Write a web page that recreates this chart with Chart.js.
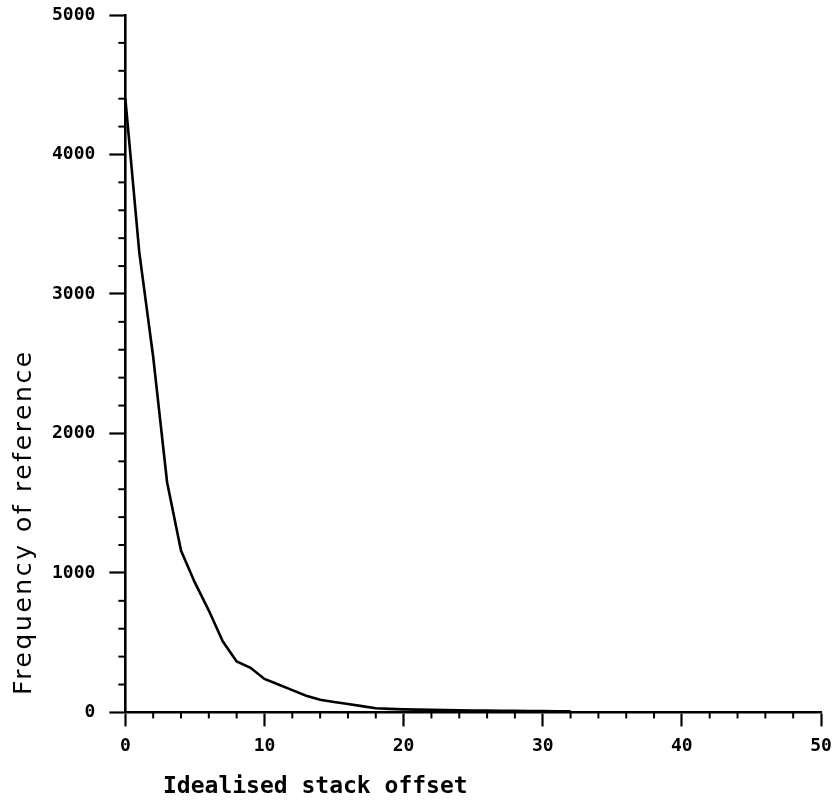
<!DOCTYPE html>
<html>
<head>
<meta charset="utf-8">
<script src="https://cdn.jsdelivr.net/npm/chart.js@4.4.1/dist/chart.umd.min.js"></script>
<style>
  html, body { margin: 0; padding: 0; background: #fff; }
  #wrap { width: 834px; height: 800px; }
</style>
</head>
<body>
<div id="wrap"><canvas id="chart" width="834" height="800"></canvas></div>
<script>
// Offsets
const offsets = [0, 1, 2, 3, 4, 5, 6, 7, 8, 9, 10, 11, 12, 13, 14, 15, 16,
                 17, 18, 19, 20, 21, 22, 23, 24, 25, 26, 27, 28, 29, 30, 31, 32];
const frequency = [4400, 3300, 2550, 1650, 1160, 930, 730, 510, 365, 320, 240,
                   200, 160, 120, 90, 75, 60, 45, 30, 25, 22, 20, 18, 17, 15,
                   14, 13, 12, 11, 10, 9, 8, 7];

const X_TICKS = [0, 10, 20, 30, 40, 50];
const Y_TICKS = [0, 1000, 2000, 3000, 4000, 5000];
const X_MINOR_STEP = 2;
const Y_MINOR_STEP = 200;

const X_TITLE = 'Idealised stack offset';
const Y_TITLE = 'Frequency of reference';

const INK = '#000';
const TICK_FONT = { family: "'DejaVu Sans Mono', monospace", size: 18, weight: 'bold' };

// minor tick marks and the two axis titles
const axisExtras = {
    id: 'axisExtras',
    afterDraw(chart) {
        const { ctx, scales: { x, y } } = chart;
        ctx.save();
        ctx.strokeStyle = INK;
        ctx.lineWidth = 2;
        for (let v = 0; v <= 50; v += X_MINOR_STEP) {
            if (v % 10 === 0) continue;
            const px = x.getPixelForValue(v);
            ctx.beginPath();
            ctx.moveTo(px, y.bottom);
            ctx.lineTo(px, y.bottom + 6);
            ctx.stroke();
        }
        for (let v = 0; v <= 5000; v += Y_MINOR_STEP) {
            if (v % 1000 === 0) continue;
            const py = y.getPixelForValue(v);
            ctx.beginPath();
            ctx.moveTo(x.left, py);
            ctx.lineTo(x.left - 7, py);
            ctx.stroke();
        }

        ctx.fillStyle = INK;
        ctx.font = "bold 23px 'DejaVu Sans Mono', monospace";
        ctx.textAlign = 'left';
        ctx.textBaseline = 'alphabetic';
        ctx.fillText(X_TITLE, 163, 793);

        ctx.translate(31, 695);
        ctx.rotate(-Math.PI / 2);
        ctx.font = "25px 'DejaVu Sans', sans-serif";
        ctx.letterSpacing = '2.6px';
        ctx.fillText(Y_TITLE, 0, 0);
        ctx.restore();
    }
};

new Chart(document.getElementById('chart'), {
    type: 'line',
    data: {
        datasets: [{
            data: offsets.map((o, i) => ({ x: o, y: frequency[i] })),
            borderColor: INK,
            borderWidth: 2.6,
            pointRadius: 0,
            tension: 0,
            fill: false
        }]
    },
    options: {
        responsive: false,
        animation: false,
        layout: { padding: { left: 38, right: 13, top: 15, bottom: 34 } },
        plugins: { legend: { display: false }, tooltip: { enabled: false } },
        scales: {
            x: {
                type: 'linear',
                min: 0,
                max: 50,
                afterBuildTicks: s => { s.ticks = X_TICKS.map(v => ({ value: v })); },
                afterFit: s => { s.paddingRight = 0; },
                border: { color: INK, width: 2.6 },
                grid: { drawOnChartArea: false, drawTicks: true, tickLength: 14, tickColor: INK, tickWidth: 2.2 },
                ticks: { color: INK, font: TICK_FONT, padding: 9, maxRotation: 0, callback: v => String(v) }
            },
            y: {
                min: 0,
                max: 5000,
                afterBuildTicks: s => { s.ticks = Y_TICKS.map(v => ({ value: v })); },
                afterFit: s => { s.paddingTop = 0; },
                border: { color: INK, width: 2.6 },
                grid: { drawOnChartArea: false, drawTicks: true, tickLength: 16, tickColor: INK, tickWidth: 2.2 },
                ticks: { color: INK, font: TICK_FONT, padding: 14, callback: v => String(v) }
            }
        }
    },
    plugins: [axisExtras]
});
</script>
</body>
</html>
